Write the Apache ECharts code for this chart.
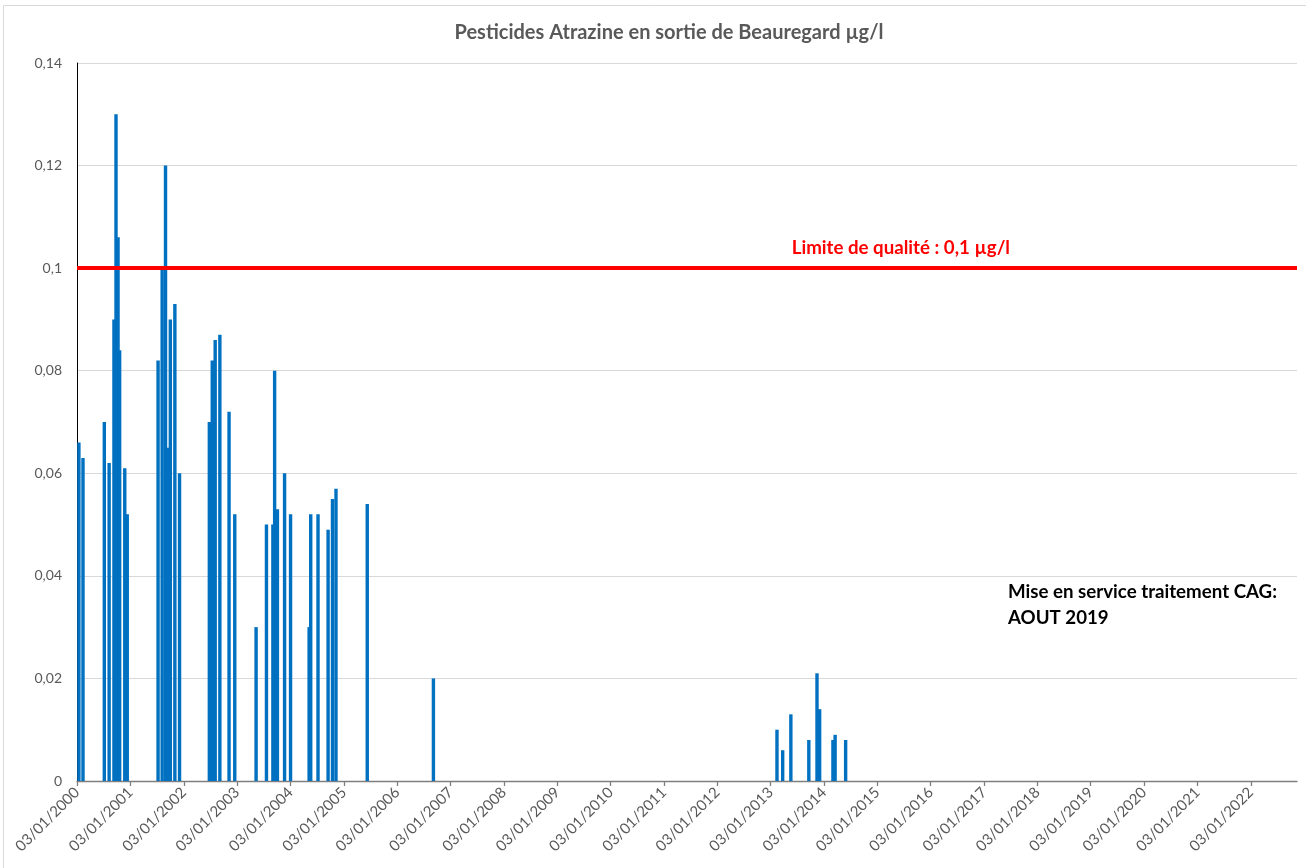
<!DOCTYPE html>
<html>
<head>
<meta charset="utf-8">
<title>Pesticides Atrazine en sortie de Beauregard</title>
<script src="https://cdn.jsdelivr.net/npm/echarts@6/dist/echarts.min.js"></script>
<style>
  html, body { margin: 0; padding: 0; background: #ffffff; }
  #chart { width: 1306px; height: 868px; }
</style>
</head>
<body>
<div id="chart"></div>
<script>
// Sampling dates (day of measurement) and atrazine concentrations in µg/l
const sampleDates = [
  '2000-01-16', '2000-02-13', '2000-07-08', '2000-08-10', '2000-09-12', '2000-09-26',
  '2000-10-10', '2000-10-21', '2000-11-25', '2000-12-12',
  '2001-07-11', '2001-08-08', '2001-08-31', '2001-09-18', '2001-10-03', '2001-11-03', '2001-12-05',
  '2002-06-27', '2002-07-17', '2002-08-06', '2002-09-07', '2002-11-09', '2002-12-18',
  '2003-05-13', '2003-07-23', '2003-09-05', '2003-09-17', '2003-10-06', '2003-11-24', '2004-01-04',
  '2004-05-10', '2004-05-21', '2004-07-10', '2004-09-17', '2004-10-17', '2004-11-10',
  '2005-06-12', '2006-09-08',
  '2013-02-15', '2013-03-26', '2013-05-21', '2013-09-21', '2013-11-16', '2013-12-04',
  '2014-03-05', '2014-03-20', '2014-05-31'
];
const atrazine = [
  0.066, 0.063, 0.07, 0.062, 0.09, 0.13,
  0.106, 0.084, 0.061, 0.052,
  0.082, 0.1, 0.12, 0.065, 0.09, 0.093, 0.06,
  0.07, 0.082, 0.086, 0.087, 0.072, 0.052,
  0.03, 0.05, 0.05, 0.08, 0.053, 0.06, 0.052,
  0.03, 0.052, 0.052, 0.049, 0.055, 0.057,
  0.054, 0.02,
  0.01, 0.006, 0.013, 0.008, 0.021, 0.014,
  0.008, 0.009, 0.008
];

// Yearly ticks of the date axis
const tickDates = [
  '2000-01-03', '2001-01-03', '2002-01-03', '2003-01-03', '2004-01-03', '2005-01-03',
  '2006-01-03', '2007-01-03', '2008-01-03', '2009-01-03', '2010-01-03', '2011-01-03',
  '2012-01-03', '2013-01-03', '2014-01-03', '2015-01-03', '2016-01-03', '2017-01-03',
  '2018-01-03', '2019-01-03', '2020-01-03', '2021-01-03', '2022-01-03'
];
const tickLabels = [
  '03/01/2000', '03/01/2001', '03/01/2002', '03/01/2003', '03/01/2004', '03/01/2005',
  '03/01/2006', '03/01/2007', '03/01/2008', '03/01/2009', '03/01/2010', '03/01/2011',
  '03/01/2012', '03/01/2013', '03/01/2014', '03/01/2015', '03/01/2016', '03/01/2017',
  '03/01/2018', '03/01/2019', '03/01/2020', '03/01/2021', '03/01/2022'
];
const axisStart = '2000-01-03';
const axisEnd = '2022-11-15';

const qualityLimit = 0.1;
const limitText = 'Limite de qualité : 0,1 µg/l';
const noteLines = ['Mise en service traitement CAG:', 'AOUT 2019'];
const titleText = 'Pesticides Atrazine en sortie de Beauregard µg/l';

// Days elapsed since the axis origin
function dayOf(s) {
  const [y, m, d] = s.split('-').map(Number);
  const [y0, m0, d0] = axisStart.split('-').map(Number);
  return Math.round((Date.UTC(y, m - 1, d) - Date.UTC(y0, m0 - 1, d0)) / 86400000);
}

const tickDays = tickDates.map(dayOf);
const barData = sampleDates.map((s, i) => [dayOf(s), atrazine[i]]);

const FONT = 'Lato, "Open Sans", "Liberation Sans", sans-serif';
const chart = echarts.init(document.getElementById('chart'), null, { renderer: 'canvas' });

chart.setOption({
  backgroundColor: '#ffffff',
  animation: false,
  grid: { left: 77, right: 9, top: 63, bottom: 87, containLabel: false },
  xAxis: {
    type: 'value',
    min: 0,
    max: dayOf(axisEnd),
    splitLine: { show: false },
    axisLine: { show: true, onZero: false, lineStyle: { color: '#7f7f7f', width: 1.3 } },
    axisTick: { show: true, length: 5, inside: false, customValues: tickDays, lineStyle: { color: '#7f7f7f', width: 1.3 } },
    axisLabel: {
      customValues: tickDays,
      rotate: 45,
      margin: 9,
      color: '#595959',
      fontFamily: FONT,
      fontSize: 15,
      formatter: v => {
        const i = tickDays.indexOf(Math.round(v));
        return i >= 0 ? tickLabels[i] : '';
      }
    }
  },
  yAxis: {
    type: 'value',
    min: 0,
    max: 0.14,
    interval: 0.02,
    axisLine: { show: true, lineStyle: { color: '#000000', width: 1 } },
    axisTick: { show: false },
    splitLine: { show: true, lineStyle: { color: '#d9d9d9', width: 1 } },
    axisLabel: {
      margin: 15,
      color: '#595959',
      fontFamily: FONT,
      fontSize: 14,
      formatter: v => String(+v.toFixed(2)).replace('.', ',')
    }
  },
  series: [{
    type: 'bar',
    data: barData,
    barWidth: 3.4,
    itemStyle: { color: '#0070c0' },
    markLine: {
      silent: true,
      symbol: 'none',
      label: { show: false },
      lineStyle: { color: '#ff0000', width: 4, type: 'solid' },
      data: [{ yAxis: qualityLimit }]
    }
  }]
});

// Labels placed relative to the plotted limit line
const limitY = chart.convertToPixel({ gridIndex: 0 }, [0, qualityLimit])[1];
chart.setOption({
  graphic: [
    {
      type: 'rect',
      shape: { x: 3.5, y: 5.5, width: 1320, height: 880 },
      style: { fill: 'none', stroke: '#d9d9d9', lineWidth: 1 },
      silent: true
    },
    {
      type: 'text',
      x: 669, y: 33,
      style: {
        text: titleText, fill: '#595959',
        font: 'bold 20px ' + FONT,
        textAlign: 'center', textVerticalAlign: 'middle'
      }
    },
    {
      type: 'text',
      x: 1010, y: limitY - 20,
      style: {
        text: limitText, fill: '#ff0000',
        font: 'bold 18.7px ' + FONT,
        textAlign: 'right', textVerticalAlign: 'middle'
      }
    },
    {
      type: 'text',
      x: 1008, y: 592,
      style: {
        text: noteLines[0], fill: '#000000',
        font: 'bold 18.7px ' + FONT,
        textAlign: 'left', textVerticalAlign: 'middle'
      }
    },
    {
      type: 'text',
      x: 1008, y: 618,
      style: {
        text: noteLines[1], fill: '#000000',
        font: 'bold 18.7px ' + FONT,
        textAlign: 'left', textVerticalAlign: 'middle'
      }
    }
  ]
});
</script>
</body>
</html>
